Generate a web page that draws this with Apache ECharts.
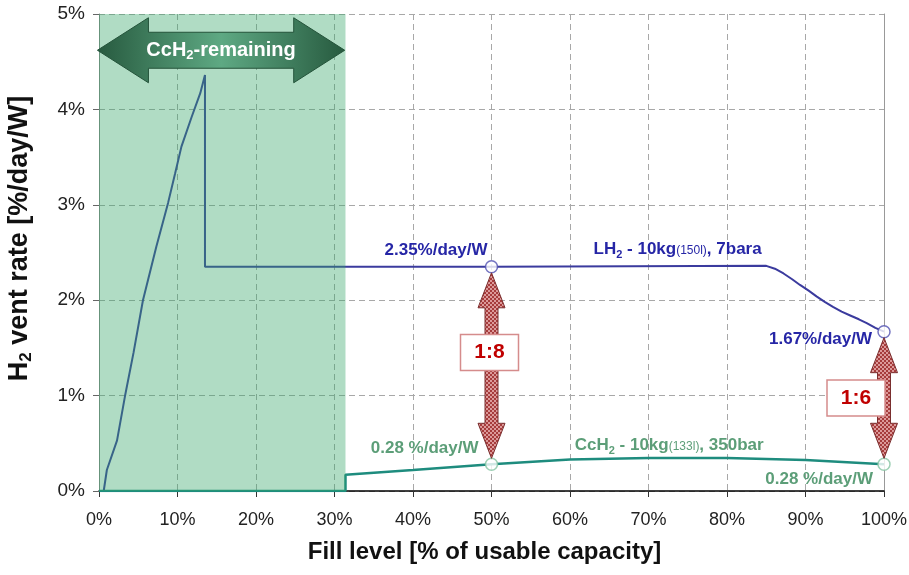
<!DOCTYPE html>
<html><head><meta charset="utf-8">
<script src="https://cdn.jsdelivr.net/npm/echarts@6/dist/echarts.min.js"></script>
<style>html,body{margin:0;padding:0;background:#fff}#c{width:909px;height:575px}</style>
</head><body><div id="c"></div>
<script>
// ---------- data ----------
const lh2Fill = [0.6, 1.0, 2.3, 3.3, 4.4, 5.6, 7.3, 8.8, 9.7, 10.5, 11.8, 12.9, 13.5, 13.5, 50, 85.0, 86.1, 87.2, 88.3, 89.3, 90.4, 91.4, 92.5, 93.5, 94.6, 95.7, 96.8, 97.8, 98.9, 100];
const lh2Rate = [0, 0.22, 0.53, 0.99, 1.45, 2.0, 2.56, 3.02, 3.33, 3.61, 3.92, 4.17, 4.36, 2.35, 2.35, 2.36, 2.33, 2.28, 2.22, 2.16, 2.10, 2.04, 1.98, 1.93, 1.88, 1.84, 1.80, 1.76, 1.71, 1.67];
const cch2Fill = [0, 31.4, 31.4, 40, 50, 60, 70, 80, 90, 100];
const cch2Rate = [0, 0, 0.17, 0.22, 0.28, 0.33, 0.345, 0.345, 0.325, 0.28];
const lh2MarkFill = [50, 100];
const lh2MarkRate = [2.35, 1.67];
const cch2MarkFill = [50, 100];
const cch2MarkRate = [0.28, 0.28];
const shadeFill = [0, 31.4];          // CcH2-remaining region (fill %)
const remainingFill = [-0.2, 31.3];   // double arrow extent
const remainingRate = 4.62;           // arrow centre line
const remainingText = 'CcH{s|2}-remaining';
const ratioFill = [50, 100];
const ratioHigh = [2.35, 1.67];
const ratioLow = [0.28, 0.28];
const ratioText = ['1:8', '1:6'];
const noteFill = [50, 63, 100, 50, 60.6, 100];
const noteRate = [2.35, 2.35, 1.67, 0.28, 0.33, 0.28];
const noteText = ['2.35%/day/W', 'LH{s|2} - 10kg{p|(150l)}, 7bara', '1.67%/day/W',
                  '0.28 %/day/W', 'CcH{s|2} - 10kg{p|(133l)}, 350bar', '0.28 %/day/W'];
const xTicks = [0, 100, 10];
const yTicks = [0, 5, 1];
const xTitle = 'Fill level [% of usable capacity]';
const yTitle = 'H{s|2} vent rate [%/day/W]';

// ---------- styles / layout ----------
const FONT = '"Liberation Sans", Arial, sans-serif';
const BLUE = '#3b3b9e', BLUE_T = '#2626a6', TEAL = '#1e8c7e', GREEN_T = '#5c9e78';
const noteLayout = [
  {align: 'right', dx: -4, dy: -16, color: BLUE_T},
  {align: 'left', dx: 0, dy: -17, color: BLUE_T},
  {align: 'right', dx: -12, dy: 8, color: BLUE_T},
  {align: 'right', dx: -13, dy: -16, color: GREEN_T},
  {align: 'left', dx: 0, dy: -14, color: GREEN_T},
  {align: 'right', dx: -11, dy: 15, color: GREEN_T}
];
const ratioBox = [{dx: -2, dy: -13}, {dx: -28, dy: 0}];

const pat = document.createElement('canvas');
pat.width = 4; pat.height = 4;
const pg = pat.getContext('2d');
pg.fillStyle = '#dc9a9a'; pg.fillRect(0, 0, 4, 4);
pg.fillStyle = '#a63c3c'; pg.fillRect(0, 0, 2, 2); pg.fillRect(2, 2, 2, 2);

const chart = echarts.init(document.getElementById('c'));
const zip = (a, b) => a.map((v, i) => [v, b[i]]);

chart.setOption({
  animation: false,
  backgroundColor: '#fff',
  grid: {left: 99, right: 25, top: 14, bottom: 84, containLabel: false, outerBoundsMode: 'none'},
  xAxis: {
    type: 'value', min: xTicks[0], max: xTicks[1], interval: xTicks[2],
    name: xTitle, nameLocation: 'middle', nameGap: 49,
    nameTextStyle: {fontFamily: FONT, fontSize: 24, fontWeight: 'bold', color: '#111', padding: [0, 14, 0, 0]},
    axisLine: {show: true, lineStyle: {color: '#000', width: 1.5}},
    axisTick: {show: true, length: 6, lineStyle: {color: '#333'}},
    axisLabel: {formatter: '{value}%', margin: 20, fontFamily: FONT, fontSize: 18, color: '#222'},
    splitLine: {show: true, lineStyle: {color: '#a8a8a8', type: [6, 4], width: 1}}
  },
  yAxis: [{
    type: 'value', min: yTicks[0], max: yTicks[1], interval: yTicks[2],
    name: yTitle, nameLocation: 'middle', nameGap: 64, nameRotate: 90,
    nameTextStyle: {fontFamily: FONT, fontSize: 27, fontWeight: 'bold', color: '#111', padding: [0, 0, 0, 28],
      rich: {s: {fontFamily: FONT, fontSize: 17, fontWeight: 'bold', color: '#111', padding: [14, 0, 0, 0]}}},
    axisLine: {show: true, lineStyle: {color: '#888', width: 1}},
    axisTick: {show: true, length: 6, lineStyle: {color: '#666'}},
    axisLabel: {formatter: '{value}%', margin: 14, fontFamily: FONT, fontSize: 19, color: '#222'},
    splitLine: {show: true, lineStyle: {color: '#a8a8a8', type: [6, 4], width: 1}}
  }, {
    type: 'value', position: 'right', min: yTicks[0], max: yTicks[1], interval: yTicks[2],
    axisLine: {show: true, lineStyle: {color: '#999', width: 1}},
    axisTick: {show: false}, axisLabel: {show: false}, splitLine: {show: false}
  }],
  series: [
    {type: 'line', name: 'LH2', data: zip(lh2Fill, lh2Rate), symbol: 'none', z: 2,
     lineStyle: {color: BLUE, width: 2}},
    {type: 'line', name: 'CcH2', data: zip(cch2Fill, cch2Rate), symbol: 'none', z: 2,
     lineStyle: {color: TEAL, width: 2.5}},
    {type: 'custom', name: 'shade', z: 3, silent: true, clip: false,
     data: [[shadeFill[0], shadeFill[1]]], encode: {x: [0, 1]},
     renderItem: (params, api) => {
       const a = api.coord([api.value(0), yTicks[1]]);
       const b = api.coord([api.value(1), yTicks[0]]);
       return {type: 'rect', shape: {x: a[0], y: a[1], width: b[0] - a[0], height: b[1] - a[1]},
               style: {fill: 'rgba(52,166,104,0.39)'}};
     }},
    {type: 'scatter', name: 'lh2Marks', data: zip(lh2MarkFill, lh2MarkRate), z: 6,
     symbol: 'circle', symbolSize: 12,
     itemStyle: {color: '#fff', borderColor: '#5050b0', borderWidth: 1.5}},
    {type: 'scatter', name: 'cch2Marks', data: zip(cch2MarkFill, cch2MarkRate), z: 6,
     symbol: 'circle', symbolSize: 12,
     itemStyle: {color: '#fff', borderColor: '#86c4a2', borderWidth: 1.5}},
    {type: 'custom', name: 'remaining', z: 7, silent: true, clip: false,
     data: [[remainingFill[0], remainingFill[1], remainingRate]], encode: {x: [0, 1], y: 2},
     renderItem: (params, api) => {
       const L = api.coord([api.value(0), api.value(2)]);
       const R = api.coord([api.value(1), api.value(2)]);
       const c = L[1], l = L[0], r = R[0], hl = 51, hh = 32.5, bh = 18;
       const pts = [[l, c], [l + hl, c - hh], [l + hl, c - bh], [r - hl, c - bh], [r - hl, c - hh], [r, c],
                    [r - hl, c + hh], [r - hl, c + bh], [l + hl, c + bh], [l + hl, c + hh]];
       return {type: 'group', children: [
         {type: 'polygon', shape: {points: pts},
          style: {fill: new echarts.graphic.LinearGradient(0, 0, 1, 0, [
            {offset: 0, color: '#275a3f'}, {offset: 0.5, color: '#5ea983'}, {offset: 1, color: '#275a3f'}]),
            stroke: '#24533a', lineWidth: 1}},
         {type: 'text', x: (l + r) / 2, y: c,
          style: {text: remainingText, align: 'center', verticalAlign: 'middle', fill: '#fff',
                  fontFamily: FONT, fontSize: 20, fontWeight: 'bold',
                  rich: {s: {fontFamily: FONT, fontSize: 13, fontWeight: 'bold', fill: '#fff', padding: [10, 0, 0, 0]}}}}
       ]};
     }},
    {type: 'custom', name: 'ratios', z: 8, silent: true, clip: false,
     data: ratioFill.map((x, i) => [x, ratioHigh[i], ratioLow[i]]), encode: {x: 0, y: [1, 2]},
     renderItem: (params, api) => {
       const i = params.dataIndex;
       const T = api.coord([api.value(0), api.value(1)]);
       const B = api.coord([api.value(0), api.value(2)]);
       const cx = T[0], t = T[1] + 6, b = B[1] - 6, hl = 35, hw = 13.5, sw = 6.5;
       const pts = [[cx, t], [cx + hw, t + hl], [cx + sw, t + hl], [cx + sw, b - hl], [cx + hw, b - hl], [cx, b],
                    [cx - hw, b - hl], [cx - sw, b - hl], [cx - sw, t + hl], [cx - hw, t + hl]];
       const bx = cx + ratioBox[i].dx, by = (t + b) / 2 + ratioBox[i].dy;
       return {type: 'group', children: [
         {type: 'polygon', shape: {points: pts},
          style: {fill: {image: pat, repeat: 'repeat'}, stroke: '#7a2e2e', lineWidth: 1}},
         {type: 'rect', shape: {x: bx - 29, y: by - 18, width: 58, height: 36},
          style: {fill: '#fff', stroke: '#d58c8c', lineWidth: 1.5}},
         {type: 'text', x: bx, y: by,
          style: {text: ratioText[i], align: 'center', verticalAlign: 'middle', fill: '#c00000',
                  fontFamily: FONT, fontSize: 21, fontWeight: 'bold'}}
       ]};
     }},
    {type: 'custom', name: 'notes', z: 9, silent: true, clip: false,
     data: noteFill.map((x, i) => [x, noteRate[i]]), encode: {x: 0, y: 1},
     renderItem: (params, api) => {
       const i = params.dataIndex, lay = noteLayout[i];
       const p = api.coord([api.value(0), api.value(1)]);
       return {type: 'text', x: p[0] + lay.dx, y: p[1] + lay.dy,
         style: {text: noteText[i], align: lay.align, verticalAlign: 'middle', fill: lay.color,
                 fontFamily: FONT, fontSize: 17, fontWeight: 'bold',
                 rich: {
                   s: {fontFamily: FONT, fontSize: 11, fontWeight: 'bold', fill: lay.color, padding: [10, 0, 0, 0]},
                   p: {fontFamily: FONT, fontSize: 12, fontWeight: 'normal', fill: lay.color, padding: [2, 0, 0, 0]}
                 }}};
     }}
  ]
});
</script></body></html>
